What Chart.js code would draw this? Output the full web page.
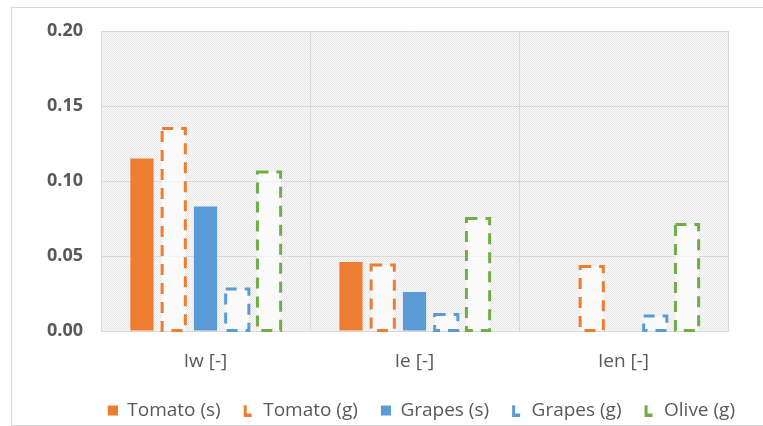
<!DOCTYPE html>
<html>
<head>
<meta charset="utf-8">
<script src="https://cdn.jsdelivr.net/npm/chart.js@4.4.1/dist/chart.umd.min.js"></script>
<style>
  html, body { margin: 0; padding: 0; background: #ffffff; }
  #wrap { width: 763px; height: 426px; }
</style>
</head>
<body>
<div id="wrap"><canvas id="chart" width="763" height="426"></canvas></div>
<script>
// values
const categories = ['Iw [-]', 'Ie [-]', 'Ien [-]'];
const tomatoSolid = [0.115, 0.046, 0];
const tomatoGas = [0.135, 0.044, 0.043];
const grapesSolid = [0.083, 0.026, 0];
const grapesGas = [0.028, 0.011, 0.010];
const oliveGas = [0.106, 0.075, 0.071];
const yMin = 0;
const yMax = 0.20;
const yStep = 0.05;

const ORANGE = '#ED7D31';
const BLUE = '#5B9BD5';
const GREEN = '#70AD47';
const FONT = "'Open Sans', 'Liberation Sans', sans-serif";

// light dotted fill of the plot area
const makePattern = (ctx) => {
    const c = document.createElement('canvas');
    c.width = 2; c.height = 2;
    const p = c.getContext('2d');
    p.fillStyle = '#f8f8f8';
    p.fillRect(0, 0, 2, 2);
    p.fillStyle = '#e9e9e9';
    p.fillRect(0, 0, 1, 1);
    p.fillRect(1, 1, 1, 1);
    return ctx.createPattern(c, 'repeat');
};

// legend markers: a filled square, or the corner of a dashed outline
const makeMarker = (color, isDashed) => {
    const c = document.createElement('canvas');
    c.width = 13; c.height = 12;
    const p = c.getContext('2d');
    if (isDashed) {
        p.strokeStyle = color;
        p.lineWidth = 3;
        p.beginPath();
        p.moveTo(4.5, 0.5);
        p.lineTo(4.5, 10.5);
        p.lineTo(11, 10.5);
        p.stroke();
    } else {
        p.fillStyle = color;
        p.fillRect(3, 1, 10, 10);
    }
    return c;
};

const backdropPlugin = {
    id: 'backdrop',
    beforeDraw(chart) {
        const { ctx, chartArea } = chart;
        ctx.save();
        ctx.strokeStyle = '#d9d9d9';
        ctx.lineWidth = 1;
        ctx.strokeRect(11.5, 7.5, 800, 418);
        ctx.fillStyle = makePattern(ctx);
        ctx.fillRect(chartArea.left, chartArea.top, chartArea.right - chartArea.left, chartArea.bottom - chartArea.top);
        ctx.restore();
    }
};

// Chart.js bars have no dashed border, so draw it over the bar elements
const dashedBarsPlugin = {
    id: 'dashedBars',
    afterDatasetsDraw(chart) {
        const ctx = chart.ctx;
        chart.data.datasets.forEach((ds, i) => {
            if (!ds.dashed) return;
            const meta = chart.getDatasetMeta(i);
            if (meta.hidden) return;
            meta.data.forEach((bar, j) => {
                if (!ds.data[j]) return;
                const { x, y, base, width } = bar.getProps(['x', 'y', 'base', 'width'], true);
                ctx.save();
                ctx.strokeStyle = ds.dashColor;
                ctx.lineWidth = 3;
                ctx.setLineDash([11, 8]);
                ctx.strokeRect(x - width / 2, y, width, base - y);
                ctx.restore();
            });
        });
    }
};

const solid = (label, data, color) => ({
    label, data,
    backgroundColor: color,
    borderWidth: 0,
    dashed: false,
    dashColor: color
});
const dashed = (label, data, color) => ({
    label, data,
    backgroundColor: 'rgba(255,255,255,0.65)',
    borderWidth: 0,
    dashed: true,
    dashColor: color
});

new Chart(document.getElementById('chart').getContext('2d'), {
    type: 'bar',
    data: {
        labels: categories,
        datasets: [
            solid('Tomato (s)', tomatoSolid, ORANGE),
            dashed('Tomato (g)', tomatoGas, ORANGE),
            solid('Grapes (s)', grapesSolid, BLUE),
            dashed('Grapes (g)', grapesGas, BLUE),
            dashed('Olive (g)', oliveGas, GREEN)
        ]
    },
    options: {
        responsive: false,
        animation: false,
        devicePixelRatio: 1,
        layout: { padding: { left: 11, right: 8, top: 31, bottom: -4 } },
        datasets: {
            bar: { categoryPercentage: 0.76, barPercentage: 0.73 }
        },
        plugins: {
            tooltip: { enabled: false },
            legend: {
                position: 'bottom',
                align: 'end',
                labels: {
                    color: '#595959',
                    font: { family: FONT, size: 19 },
                    usePointStyle: true,
                    pointStyleWidth: 13,
                    boxHeight: 12,
                    padding: 20,
                    generateLabels: (chart) => chart.data.datasets.map((ds, i) => ({
                        text: ds.label,
                        datasetIndex: i,
                        fontColor: '#595959',
                        pointStyle: makeMarker(ds.dashColor, ds.dashed),
                        lineWidth: 0,
                        hidden: false
                    }))
                }
            }
        },
        scales: {
            x: {
                grid: { color: '#d9d9d9', drawTicks: false, offset: true },
                border: { color: '#d9d9d9' },
                ticks: {
                    color: '#595959',
                    font: { family: FONT, size: 19 },
                    padding: 19
                },
                afterFit: (scale) => { scale.height = 50; }
            },
            y: {
                min: yMin,
                max: yMax,
                grid: { color: '#d9d9d9', drawTicks: false },
                border: { display: false },
                ticks: {
                    stepSize: yStep,
                    color: '#595959',
                    font: { family: FONT, size: 18, weight: 'bold' },
                    padding: 18,
                    callback: (v) => v.toFixed(2)
                },
                afterFit: (scale) => { scale.width = 90; }
            },
            spacer: {
                position: 'right',
                grid: { display: false },
                border: { display: false },
                ticks: { display: false },
                afterFit: (scale) => { scale.width = 27; }
            }
        }
    },
    plugins: [backdropPlugin, dashedBarsPlugin]
});
</script>
</body>
</html>
